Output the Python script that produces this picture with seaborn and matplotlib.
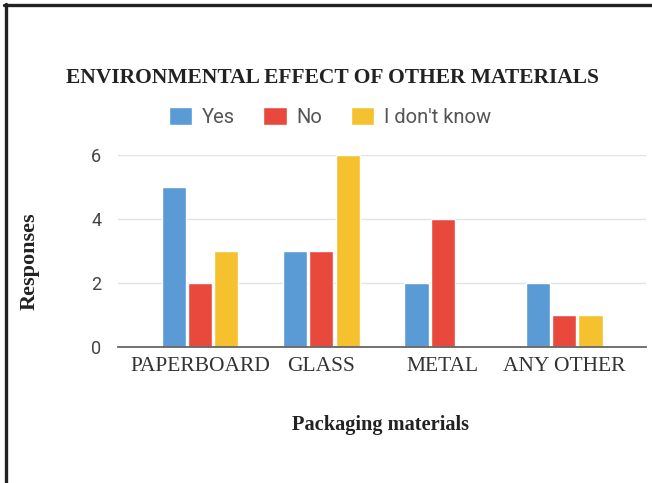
import matplotlib
matplotlib.use("Agg")
import matplotlib.pyplot as plt
import seaborn as sns
import pandas as pd
from matplotlib.lines import Line2D

# Survey responses per packaging material
materials = ["PAPERBOARD", "GLASS", "METAL", "ANY OTHER"]
answers = ["Yes", "No", "I don't know"]
yes_counts = [5, 3, 2, 2]
no_counts = [2, 3, 4, 1]
dont_know_counts = [3, 6, 0, 1]
y_ticks = [0, 2, 4, 6]

colors = ["#5b9bd5", "#e8493c", "#f6c12f"]

rows = []
for answer, counts in zip(answers, [yes_counts, no_counts, dont_know_counts]):
    for m, c in zip(materials, counts):
        rows.append({"Material": m, "Answer": answer, "Count": c})
df = pd.DataFrame(rows)

sns.set_theme(style="white")
plt.rcParams["font.family"] = ["DejaVu Sans"]

fig = plt.figure(figsize=(6.52, 4.83), dpi=100)
ax = fig.add_axes([0.181, 0.2816, 0.81, 0.3975])

sns.barplot(data=df, x="Material", y="Count", hue="Answer",
            order=materials, hue_order=answers, palette=colors,
            width=0.65, gap=0.08, saturation=1, ax=ax)

ax.set_ylim(0, 6)
ax.set_xlim(-0.675, 3.675)
ax.set_yticks(y_ticks)
ax.set_yticklabels([str(t) for t in y_ticks], fontsize=13, color="#444444",
                   family="Roboto")
ax.set_xticks(range(len(materials)))
ax.set_xticklabels(materials, fontsize=15.5, color="#333333", family="Liberation Serif")
ax.tick_params(axis="both", length=0, pad=7)
ax.tick_params(axis="y", pad=12)

ax.yaxis.grid(True, color="#e3e3e3", linewidth=1.0)
ax.set_axisbelow(True)
for side in ["top", "right", "left"]:
    ax.spines[side].set_visible(False)
ax.spines["bottom"].set_color("#666666")
ax.spines["bottom"].set_linewidth(1.3)

ax.set_xlabel("")
ax.set_ylabel("")

handles, labels = ax.get_legend_handles_labels()
ax.legend_.remove()
fig.legend(handles, labels, loc="center", bbox_to_anchor=(330 / 652, 1 - 117 / 483),
           ncol=3, frameon=False, handlelength=1.15, handleheight=0.95,
           handletextpad=0.5, columnspacing=1.4,
           prop={"family": "Roboto", "size": 14.5}, labelcolor="#555555")

fig.text(332 / 652, 1 - 78 / 483, "ENVIRONMENTAL EFFECT OF OTHER MATERIALS",
         ha="center", va="center", fontsize=15.5, fontweight="bold",
         family="Liberation Serif", color="#222222")
fig.text(381 / 652, 1 - 425 / 483, "Packaging materials",
         ha="center", va="center", fontsize=14.7, fontweight="bold",
         family="Liberation Serif", color="#222222")
fig.text(30 / 652, 1 - 261 / 483, "Responses", rotation=90,
         ha="center", va="center", fontsize=16, fontweight="bold",
         family="Liberation Serif", color="#222222")

# Frame along the top and left edges
fig.add_artist(Line2D([4 / 652, 1.0], [1 - 4.5 / 483, 1 - 4.5 / 483],
                      transform=fig.transFigure, color="#222222", linewidth=2.4))
fig.add_artist(Line2D([5.5 / 652, 5.5 / 652], [0, 1 - 3.5 / 483],
                      transform=fig.transFigure, color="#222222", linewidth=2.4))

fig.savefig("out.png", dpi=100)
